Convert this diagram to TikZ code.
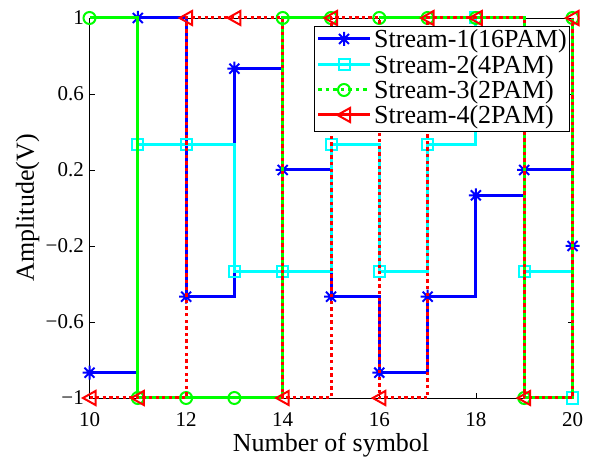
\documentclass[tikz,border=0pt]{standalone}
\usepackage{fontspec}
\setmainfont{Liberation Serif}
\definecolor{mblue}{rgb}{0,0,1}
\definecolor{mcyan}{rgb}{0,1,1}
\definecolor{mgreen}{rgb}{0,1,0}
\definecolor{mred}{rgb}{1,0,0}
\begin{document}
\begin{tikzpicture}[x=1pt,y=1pt,
  axisline/.style={black, line width=0.8pt},
  ticklab/.style={font=\fontsize{21}{24}\selectfont, inner sep=0pt},
  axlab/.style={font=\fontsize{26}{30}\selectfont, inner sep=0pt},
  legtxt/.style={font=\fontsize{26}{30}\selectfont, inner sep=0pt, anchor=base west},
  s1/.style={mblue, line width=3pt},
  s2/.style={mcyan, line width=3pt},
  s3/.style={mgreen, line width=3pt},
  s3dot/.style={mgreen, line width=3pt, dash pattern=on 3.5pt off 4pt},
  s4/.style={mred, line width=3pt, dash pattern=on 3.3pt off 3.3pt},
  s4solid/.style={mred, line width=3pt},
  ast/.pic={\draw[mblue, line width=2pt] (-7pt,0pt) -- (7pt,0pt) (0pt,-7pt) -- (0pt,7pt)
            (-5pt,-5pt) -- (5pt,5pt) (-5pt,5pt) -- (5pt,-5pt);},
  sq/.pic={\draw[mcyan, line width=2pt] (-5.5pt,-5.5pt) rectangle (5.5pt,5.5pt);},
  circ/.pic={\draw[mgreen, line width=2pt] (0pt,0pt) circle[radius=6pt];},
  tri/.pic={\draw[mred, line width=2pt, line join=miter] (-6.5pt,0pt) -- (6pt,7pt) -- (6pt,-7pt) -- cycle;},
]
\useasboundingbox (0,0) rectangle (589,458);

% axes frame
\coordinate (ll) at (89.5,60);
\coordinate (ur) at (572.5,440);
\draw[axisline] (ll) rectangle (ur);

% ticks (inward) and tick labels
\foreach \n in {10,12,...,20}{
  \pgfmathsetmacro{\xx}{48.3*\n-393.5}
  \draw[axisline] (\xx,60) -- (\xx,65) (\xx,440) -- (\xx,435);
  \node[ticklab, anchor=base] (xl\n) at (\xx,31) {\n};
}
\foreach \v/\t [count=\i] in {1/1, 0.6/0.6, 0.2/0.2, -0.2/−0.2, -0.6/−0.6, -1/−1}{
  \pgfmathsetmacro{\yy}{190*\v+250}
  \draw[axisline] (89.5,\yy) -- (94.5,\yy) (572.5,\yy) -- (567.5,\yy);
  \node[ticklab, anchor=east] (yl\i) at (84,\yy) {\t};
}

% axis titles
\node[axlab, anchor=base] (xtitle) at (331,7) {Number of symbol};
\node[axlab, anchor=base, rotate=90] (ytitle) at (34,250) {Amplitude(V)};

% data, in symbol / volt units
\begin{scope}[x=48.3pt, y=190pt, shift={(-393.5pt,250pt)}]
  % Stream-1 (16PAM)
  \draw[s1] (10,-0.8667) -| (11,1) -| (12,-0.4667) -| (13,0.7333) -| (14,0.2)
    -| (15,-0.4667) -| (16,-0.8667) -| (17,-0.4667) -| (18,0.0667) -| (19,0.2) -| (20,-0.2);
  \foreach \n/\v in {10/-0.8667, 11/1, 12/-0.4667, 13/0.7333, 14/0.2, 15/-0.4667,
                     16/-0.8667, 17/-0.4667, 18/0.0667, 19/0.2, 20/-0.2}
    \pic at (\n,\v) {ast};
  % Stream-2 (4PAM)
  \draw[s2] (11,0.3333) -| (12,0.3333) -| (13,-0.3333) -| (14,-0.3333) -| (15,0.3333)
    -| (16,-0.3333) -| (17,0.3333) -| (18,1) -| (19,-0.3333) -| (20,-1);
  \foreach \n/\v in {11/0.3333, 12/0.3333, 13/-0.3333, 14/-0.3333, 15/0.3333,
                     16/-0.3333, 17/0.3333, 18/1, 19/-0.3333, 20/-1}
    \pic at (\n,\v) {sq};
  % Stream-3 (2PAM)
  \draw[s3] (10,1) -| (11,-1) -| (12,-1) -| (13,-1) -| (14,1) -- (15,1);
  \draw[s3] (16,1) -| (17,1) -| (18,1) -| (19,-1) -| (20,1);
  \foreach \n/\v in {10/1, 11/-1, 12/-1, 13/-1, 14/1, 15/1, 16/1, 17/1, 18/1, 19/-1, 20/1}
    \pic at (\n,\v) {circ};
  % Stream-4 (2PAM)
  \draw[s4] (10,-1) -| (11,-1) -| (12,1) -| (13,1) -| (14,-1) -| (15,1)
    -| (16,-1) -| (17,1) -| (18,1) -| (19,-1) -| (20,1);
  \foreach \n/\v in {10/-1, 11/-1, 12/1, 13/1, 14/-1, 15/1, 16/-1, 17/1, 18/1, 19/-1, 20/1}
    \pic at (\n,\v) {tri};
\end{scope}

% legend
\draw[black, line width=0.8pt, fill=white] (314,327) rectangle (569,431.3);
\foreach \yy/\st/\mk/\lab [count=\i] in
   {419/s1/ast/{Stream-1(16PAM)}, 393/s2/sq/{Stream-2(4PAM)},
    368/s3dot/circ/{Stream-3(2PAM)}, 343/s4solid/tri/{Stream-4(2PAM)}}{
  \coordinate (la\i) at (318,\yy);
  \coordinate (lb\i) at (370,\yy);
  \draw[\st] (la\i) -- (lb\i);
  \pic at (344,\yy) {\mk};
  \node[legtxt] (lt\i) at (374,\yy-8.5) {\lab};
}
\end{tikzpicture}
\end{document}
